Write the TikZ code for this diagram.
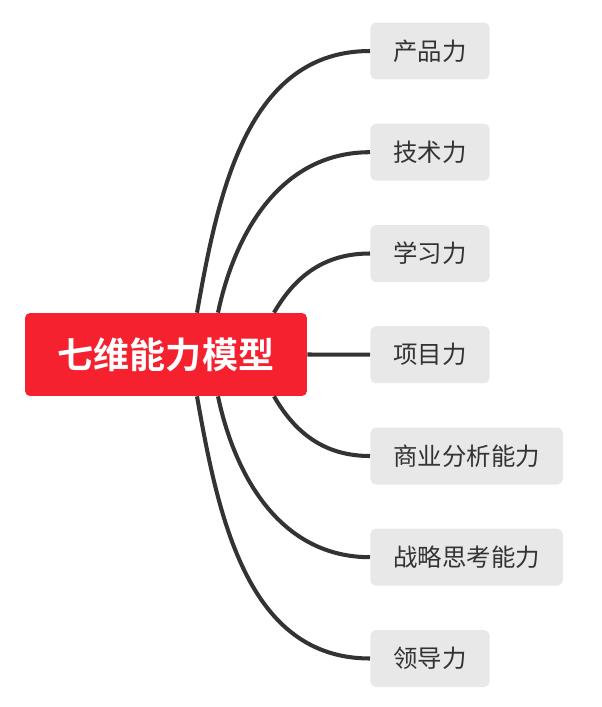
\documentclass[tikz,border=0pt]{standalone}
\usepackage{fontspec}
\setmainfont{Noto Sans CJK SC}[BoldFont={Noto Sans CJK SC Bold}]
\usetikzlibrary{positioning}
\definecolor{rootred}{RGB}{246, 33, 47}
\definecolor{leafgray}{RGB}{232, 232, 232}
\definecolor{ink}{RGB}{51, 51, 51}
\tikzset{
  root/.style={fill=rootred, text=white, rounded corners=0.1cm,
    minimum width=5.64cm, minimum height=1.66cm,
    font=\fontsize{20.5}{24}\selectfont\bfseries},
  leaf/.style={fill=leafgray, text=ink, rounded corners=0.12cm, anchor=west,
    inner xsep=0.46cm, minimum height=1.14cm,
    font=\fontsize{13.9}{16}\selectfont},
  link/.style={draw=ink, line width=2.3pt}
}

\begin{document}
\begin{tikzpicture}[x=0.02cm, y=-0.02cm]
  \useasboundingbox (0, 0) rectangle (602, 707);

  \node[root] (root) at (166, 354.5) {七维能力模型};

  \foreach \i/\y/\t in {1/51/产品力, 2/152.2/技术力, 3/253.5/学习力,
      4/354.7/项目力, 5/456/商业分析能力, 6/557.2/战略思考能力, 7/658.5/领导力} {
    \node[leaf] (c\i) at (370, \y) {\t};
  };

  % upper
  \foreach \i/\dx/\o in {1/31/80, 2/52/78, 3/108/60} {
    \draw[link] (root.north) ++(\dx, 0) to[out=\o, in=180] (c\i.west);
  };

  % middle
  \draw[link] (root.east) -- (c4.west);

  % lower
  \foreach \i/\dx/\o in {5/108/-60, 6/52/-78, 7/31/-80} {
    \draw[link] (root.south) ++(\dx, 0) to[out=\o, in=180] (c\i.west);
  };

\end{tikzpicture}
\end{document}
